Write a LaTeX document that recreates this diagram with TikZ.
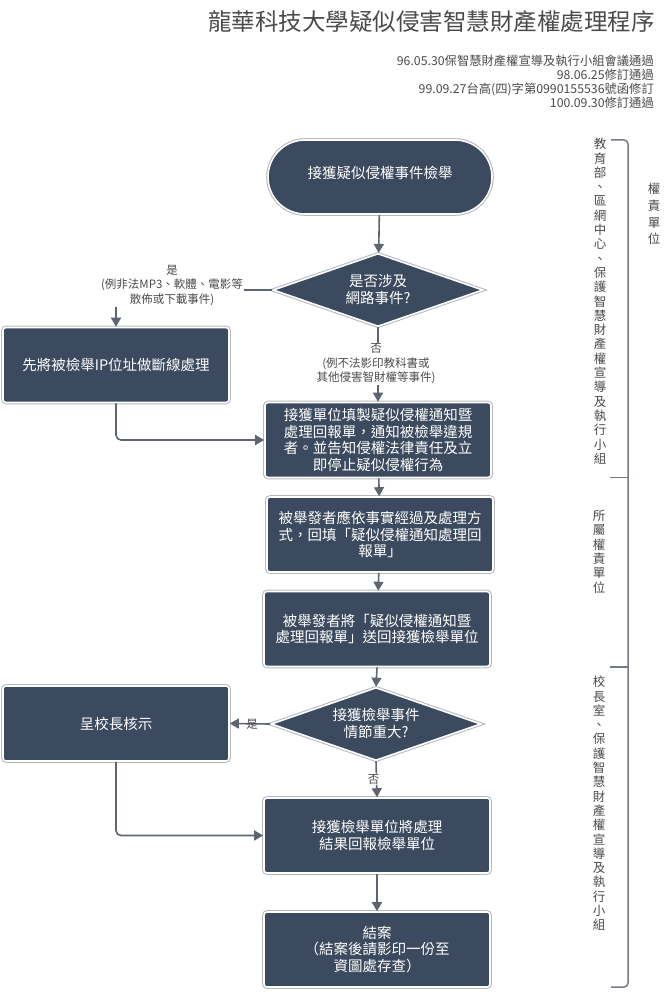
\documentclass[tikz,border=0pt]{standalone}
\usepackage{fontspec}
\setmainfont{Noto Sans CJK TC}
\usetikzlibrary{shapes.geometric,arrows.meta}
\definecolor{boxfill}{HTML}{3B4A5E}
\definecolor{boxrim}{HTML}{B4B8BE}
\definecolor{linegray}{HTML}{5E6570}
\definecolor{txtgray}{HTML}{4A4A4A}
\tikzset{
  rim/.style={fill=boxfill, draw=white, line width=1.6pt, preaction={draw=boxrim, line width=3.6pt}, text=white, align=center, inner sep=0pt},
  procbox/.style={rim, rectangle, rounded corners=3pt, minimum width=226pt, minimum height=75pt, font=\fontsize{14.5}{16.5}\selectfont},
  termbox/.style={rim, rectangle, rounded corners=37pt, minimum width=224pt, minimum height=74pt, font=\fontsize{14.5}{16.5}\selectfont},
  decbox/.style={rim, diamond, aspect=2.85, minimum width=210pt, minimum height=73pt, font=\fontsize{14.5}{17}\selectfont},
  conn/.style={draw=linegray, line width=1.6pt, -{Triangle[length=9pt,width=10pt]}, rounded corners=5pt},
  lbl/.style={fill=white, text=txtgray, align=center, inner sep=1pt, font=\fontsize{11.5}{14.5}\selectfont},
  vtxt/.style={text=txtgray, align=center, inner sep=0pt, font=\fontsize{12.5}{14.3}\selectfont},
}
\begin{document}
\begin{tikzpicture}[x=1pt,y=-1pt]
\useasboundingbox (0,0) rectangle (671,992);
% title
\node[anchor=east, text=txtgray, font=\fontsize{23.5}{26}\selectfont, inner sep=0pt] (title) at (655,22) {龍華科技大學疑似侵害智慧財產權處理程序};
\node[anchor=north east, text=txtgray, align=right, font=\fontsize{12.3}{14}\selectfont, inner sep=0pt] (sub) at (654,55) {96.05.30保智慧財產權宣導及執行小組會議通過\\98.06.25修訂通過\\99.09.27台高(四)字第0990155536號函修訂\\100.09.30修訂通過};

% nodes
\node[termbox] (start) at (380,177) {\raisebox{9pt}{接獲疑似侵權事件檢舉}};
\node[decbox] (d1) at (378,290) {是否涉及\\網路事件?};
\node[procbox] (cut) at (116,365) {先將被檢舉IP位址做斷線處理};
\node[procbox] (fill) at (378,440) {接獲單位填製疑似侵權通知暨\\處理回報單，通知被檢舉違規\\者。並告知侵權法律責任及立\\即停止疑似侵權行為};
\node[procbox] (reply) at (380,534.5) {被舉發者應依事實經過及處理方\\式，回填「疑似侵權通知處理回\\報單」};
\node[procbox] (send) at (377,629) {被舉發者將「疑似侵權通知暨\\處理回報單」送回接獲檢舉單位};
\node[decbox] (d2) at (376,724) {接獲檢舉事件\\情節重大?};
\node[procbox] (pres) at (116,723.5) {呈校長核示};
\node[procbox] (report) at (377,835.5) {接獲檢舉單位將處理\\結果回報檢舉單位};
\node[procbox] (close) at (377,949.5) {結案\\（結案後請影印一份至\\資圖處存查）};

% connectors
\draw[conn] (start) -- (d1);
\coordinate (c1) at (116,290);
\draw[conn] (d1.west) -- (c1) -- (cut.north);
\node[lbl] (yes1) at (172,285.5) {是\\(例非法MP3、軟體、電影等\\散佈或下載事件)};
\draw[conn] (d1.south) -- (fill.north);
\node[lbl] (no1) at (376,364) {否\\(例不法影印教科書或\\其他侵害智財權等事件)};
\draw[conn] (cut.south) |- (fill.west);
\draw[conn] (fill) -- (reply);
\draw[conn] (reply) -- (send);
\draw[conn] (send.south) -- (d2.north);
\draw[conn] (d2.west) -- (pres.east) node[lbl, pos=0.45, above=-7pt, fill=none] (yes2) {是};
\draw[conn] (d2.south) -- (report.north) node[lbl, pos=0.5, xshift=-3pt] (no2) {否};
\draw[conn] (pres.south) |- (report.west);
\draw[conn] (report) -- (close);

% bracket
\coordinate (b1) at (611,140);
\coordinate (b2) at (628,140);
\coordinate (b3) at (628,987);
\coordinate (b4) at (611,987);
\draw[linegray!85, line width=1.5pt, rounded corners=4pt] (b1) -- (b2) -- (b3) -- (b4);
\coordinate (t1a) at (610,477.5); \coordinate (t1b) at (628,477.5);
\coordinate (t2a) at (610,667); \coordinate (t2b) at (628,667);
\draw[linegray!85, line width=1.5pt] (t1a) -- (t1b);
\draw[linegray!85, line width=1.5pt] (t2a) -- (t2b);

% vertical texts
\node[vtxt, anchor=north] (v1) at (600,138) {教\\育\\部\\、\\區\\網\\中\\心\\、\\保\\護\\智\\慧\\財\\產\\權\\宣\\導\\及\\執\\行\\小\\組};
\node[vtxt, anchor=north, font=\fontsize{12.5}{16.7}\selectfont] (v0) at (654,183) {權\\責\\單\\位};
\node[vtxt, anchor=north] (v2) at (599,510) {所\\屬\\權\\責\\單\\位};
\node[vtxt, anchor=north] (v3) at (599,676) {校\\長\\室\\、\\保\\護\\智\\慧\\財\\產\\權\\宣\\導\\及\\執\\行\\小\\組};
\end{tikzpicture}
\end{document}
